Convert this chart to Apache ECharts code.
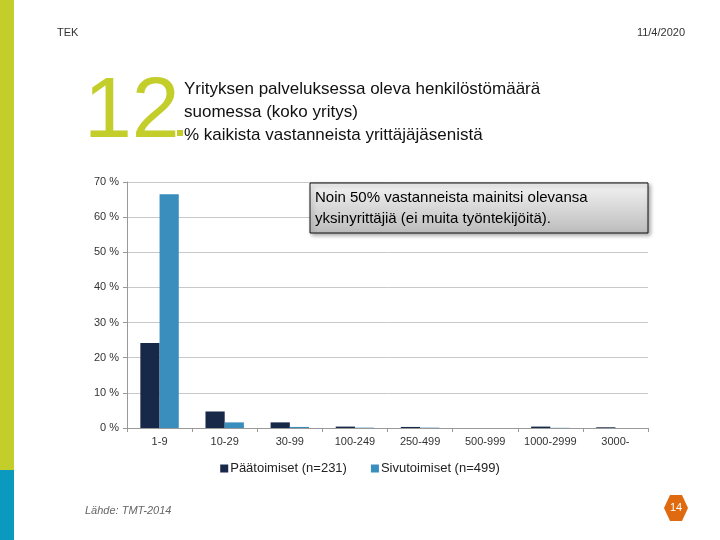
<!DOCTYPE html>
<html><head><meta charset="utf-8">
<script src="https://cdn.jsdelivr.net/npm/echarts@6/dist/echarts.min.js"></script>
<style>html,body{margin:0;padding:0;background:#fff}#c{width:720px;height:540px}</style>
</head><body><div id="c"></div>
<script>
const categories = ['1-9','10-29','30-99','100-249','250-499','500-999','1000-2999','3000-'];
const paatoimiset = [24.2, 4.7, 1.6, 0.4, 0.3, 0, 0.4, 0.2];
const sivutoimiset = [66.5, 1.6, 0.3, 0.1, 0.1, 0, 0.05, 0];
const seriesNames = ['Päätoimiset (n=231)', 'Sivutoimiset (n=499)'];
const yTicks = [0, 10, 20, 30, 40, 50, 60, 70];

const chart = echarts.init(document.getElementById('c'), null, {renderer: 'canvas'});
const FONT = 'Liberation Sans, Arial, sans-serif';
chart.setOption({
  animation: false,
  textStyle: {fontFamily: FONT},
  grid: {left: 127, right: 72, top: 182, bottom: 112},
  legend: {
    bottom: 60, left: 'center', itemWidth: 8, itemHeight: 8, itemGap: 24,
    icon: 'rect',
    textStyle: {fontSize: 13, color: '#222', fontFamily: FONT, padding: [0, 0, 0, -3]},
    data: seriesNames
  },
  xAxis: {
    type: 'category', data: categories,
    axisLine: {lineStyle: {color: '#999'}},
    axisTick: {show: true, alignWithLabel: false, lineStyle: {color: '#999'}, length: 4},
    axisLabel: {fontSize: 11, color: '#333', margin: 8, interval: 0}
  },
  yAxis: {
    type: 'value', min: 0, max: 70, interval: 10,
    axisLine: {show: true, lineStyle: {color: '#999'}},
    axisTick: {show: true, length: 4, lineStyle: {color: '#999'}},
    axisLabel: {fontSize: 11, color: '#333', formatter: v => yTicks.includes(v) ? v + ' %' : ''},
    splitLine: {lineStyle: {color: '#c8c8c8'}}
  },
  series: [
    {name: seriesNames[0], type: 'bar', data: paatoimiset, barGap: '0%', barCategoryGap: '41%',
     itemStyle: {color: '#172849'}},
    {name: seriesNames[1], type: 'bar', data: sivutoimiset,
     itemStyle: {color: '#3a8ebe'}}
  ],
  graphic: [
    {type: 'rect', shape: {x: 0, y: 0, width: 14, height: 470}, style: {fill: '#c3ce2a'}},
    {type: 'rect', shape: {x: 0, y: 470, width: 14, height: 70}, style: {fill: '#0a99bf'}},
    {type: 'text', style: {text: 'TEK', x: 57, y: 33, fontSize: 11, fill: '#333', fontFamily: FONT, textVerticalAlign: 'middle'}},
    {type: 'text', style: {text: '11/4/2020', x: 685, y: 33, fontSize: 11, fill: '#333', fontFamily: FONT, textAlign: 'right', textVerticalAlign: 'middle'}},
    {type: 'text', style: {text: '12', x: 84, y: 113, fontSize: 86, fill: '#c3ce2a', fontFamily: FONT, textVerticalAlign: 'middle'}},
    {type: 'rect', shape: {x: 177, y: 130, width: 6, height: 6}, style: {fill: '#c3ce2a'}},
    {type: 'text', style: {text: 'Yrityksen palveluksessa oleva henkilöstömäärä\nsuomessa (koko yritys)\n% kaikista vastanneista yrittäjäjäsenistä',
      x: 184, y: 78, fontSize: 17, lineHeight: 23, fill: '#111', fontFamily: FONT}},
    {type: 'group', z: 100, children: [
      {type: 'rect', z: 100, shape: {x: 310, y: 183, width: 338, height: 50},
        style: {fill: new echarts.graphic.LinearGradient(0, 0, 0, 1, [{offset: 0, color: '#f4f4f4'}, {offset: 1, color: '#bcbcbc'}]),
          stroke: '#111', lineWidth: 1, shadowBlur: 4, shadowOffsetX: 2, shadowOffsetY: 2, shadowColor: 'rgba(0,0,0,0.35)'}},
      {type: 'text', z: 101, style: {text: 'Noin 50% vastanneista mainitsi olevansa\nyksinyrittäjiä (ei muita työntekijöitä).',
        x: 315, y: 187, fontSize: 15, lineHeight: 21, fill: '#000', fontFamily: FONT}}
    ]},
    {type: 'text', style: {text: 'Lähde: TMT-2014', x: 85, y: 511, fontSize: 11, fontStyle: 'italic', fill: '#666', fontFamily: FONT, textVerticalAlign: 'middle'}},
    {type: 'polygon', shape: {points: [[664, 508], [670, 495], [682, 495], [688, 508], [682, 521], [670, 521]]}, style: {fill: '#e06a10'}},
    {type: 'text', style: {text: '14', x: 676, y: 508, fontSize: 11, fill: '#fff', fontFamily: FONT, textAlign: 'center', textVerticalAlign: 'middle'}}
  ]
});
</script></body></html>
